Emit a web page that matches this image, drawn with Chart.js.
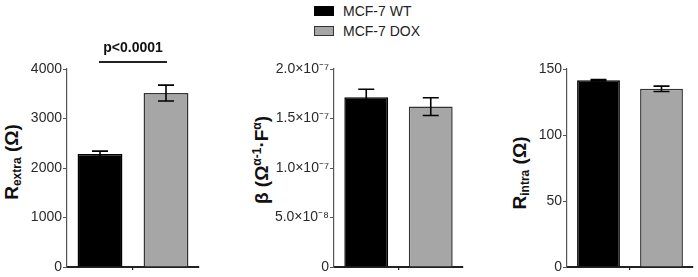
<!DOCTYPE html>
<html>
<head>
<meta charset="utf-8">
<script src="https://cdn.jsdelivr.net/npm/chart.js@4"></script>
<style>
  body { margin: 0; background: #fff; width: 698px; height: 277px; position: relative; overflow: hidden;
         font-family: "Liberation Sans", Arial, sans-serif; }
  canvas { position: absolute; top: 0; }
  .titulo { position: absolute; white-space: nowrap; font-weight: bold; font-size: 19px; color: #111;
            transform: translate(-50%, -50%) rotate(-90deg); line-height: 1; }
  .titulo sub { font-size: 12px; vertical-align: -3px; }
  .titulo sup { font-size: 12px; vertical-align: 7px; }
  .leyenda { position: absolute; font-size: 14px; color: #222; }
  .caja { position: absolute; width: 20px; height: 10px; box-sizing: border-box; }
</style>
</head>
<body>
<!-- leyenda -->
<div class="caja" style="left:314px; top:6px; background:#000; border:1px solid #000;"></div>
<div class="leyenda" style="left:343px; top:3px;">MCF-7 WT</div>
<div class="caja" style="left:314px; top:26px; background:#a6a6a6; border:1px solid #333;"></div>
<div class="leyenda" style="left:343px; top:23px;">MCF-7 DOX</div>

<!-- titulos de ejes -->
<div class="titulo" style="left:12px; top:162px;">R<sub>extra</sub> (&Omega;)</div>
<div class="titulo" style="left:261px; top:160px;">&beta; (&Omega;<sup>&alpha;-1</sup>&middot;F<sup>&alpha;</sup>)</div>
<div class="titulo" style="left:520px; top:173px;">R<sub>intra</sub> (&Omega;)</div>

<canvas id="grafico1" width="210" height="277" style="left:0px;"></canvas>
<canvas id="grafico2" width="240" height="277" style="left:230px;"></canvas>
<canvas id="grafico3" width="238" height="277" style="left:460px;"></canvas>

<script>
// Datos
//? categorias y grupos
const categorias = [""];
const grupos = ["MCF-7 WT", "MCF-7 DOX"];
const coloresGrupos = ["#000000", "#a6a6a6"];

//? R extra (media y error)
const rextraMedias = [2285, 3515];
const rextraErrores = [55, 160];
const rextraTicks = [0, 1000, 2000, 3000, 4000];
const rextraEtiquetas = ["0", "1000", "2000", "3000", "4000"];
const pValor = "p<0.0001";

//? beta
const betaMedias = [1.715e-7, 1.62e-7];
const betaErrores = [0.08e-7, 0.09e-7];
const betaTicks = [0, 5e-8, 1e-7, 1.5e-7, 2e-7];
const betaEtiquetas = ["0", "5.0×10⁻⁸", "1.0×10⁻⁷", "1.5×10⁻⁷", "2.0×10⁻⁷"];

//? R intra
const rintraMedias = [141.5, 135];
const rintraErrores = [0.6, 2];
const rintraTicks = [0, 50, 100, 150];
const rintraEtiquetas = ["0", "50", "100", "150"];

const fuente = '"Liberation Sans", Arial, sans-serif';

//? plugin barras de error
const barrasError = {
  id: "barrasError",
  afterDatasetsDraw(chart, args, opts) {
    const { ctx } = chart;
    const escala = chart.scales.y;
    chart.data.datasets.forEach((ds, i) => {
      const barra = chart.getDatasetMeta(i).data[0];
      const media = ds.data[0];
      const err = ds.errores[0];
      const yArriba = escala.getPixelForValue(media + err);
      const yAbajo = escala.getPixelForValue(media - err);
      ctx.save();
      ctx.strokeStyle = "#000";
      ctx.lineWidth = 1.6;
      ctx.beginPath();
      ctx.moveTo(barra.x, yArriba);
      ctx.lineTo(barra.x, yAbajo);
      ctx.moveTo(barra.x - 8, yArriba);
      ctx.lineTo(barra.x + 8, yArriba);
      ctx.moveTo(barra.x - 8, yAbajo);
      ctx.lineTo(barra.x + 8, yAbajo);
      ctx.stroke();
      ctx.restore();
    });
  },
};

//? plugin significancia
const significancia = {
  id: "significancia",
  afterDraw(chart, args, opts) {
    if (!opts.texto) return;
    const { ctx, chartArea } = chart;
    const x0 = chart.getDatasetMeta(0).data[0].x;
    const x1 = chart.getDatasetMeta(1).data[0].x;
    const y = chartArea.top - 7;
    ctx.save();
    ctx.strokeStyle = "#222";
    ctx.lineWidth = 2;
    ctx.beginPath();
    ctx.moveTo(x0 - 1, y);
    ctx.lineTo(x1 + 1, y);
    ctx.stroke();
    ctx.fillStyle = "#111";
    ctx.font = "bold 14px " + fuente;
    ctx.textAlign = "center";
    ctx.textBaseline = "middle";
    ctx.fillText(opts.texto, (x0 + x1) / 2, y - 14);
    ctx.restore();
  },
};

//? crear grafico
function crearGrafico(id, medias, errores, ticks, etiquetas, anchoEjeY, padDerecha, texto) {
  const datasets = grupos.map((g, i) => ({
    label: g,
    data: [medias[i]],
    errores: [errores[i]],
    backgroundColor: coloresGrupos[i],
    borderColor: i === 0 ? "#000" : "#333",
    borderWidth: 1.5,
    categoryPercentage: 1,
    barPercentage: 0.68,
  }));
  return new Chart(document.getElementById(id), {
    type: "bar",
    data: { labels: categorias, datasets },
    plugins: [barrasError, significancia],
    options: {
      responsive: false,
      animation: false,
      layout: { padding: { top: 69, right: padDerecha, left: 0, bottom: 0 } },
      plugins: {
        legend: { display: false },
        tooltip: { enabled: false },
        significancia: { texto },
      },
      scales: {
        x: {
          grid: { offset: false, drawOnChartArea: false, tickLength: 3, color: "#222", lineWidth: 1.2 },
          border: { color: "#222", width: 2 },
          ticks: { display: false },
          afterFit(s) { s.height = 10; },
        },
        y: {
          min: ticks[0],
          max: ticks[ticks.length - 1],
          grid: { drawOnChartArea: false, tickLength: 4, color: "#555" },
          border: { color: "#555", width: 1.2 },
          afterBuildTicks(s) { s.ticks = ticks.map((v) => ({ value: v })); },
          ticks: {
            padding: 1,
            color: "#2a2a2a",
            font: { family: fuente, size: 14 },
            callback: (v) => etiquetas[ticks.indexOf(v)],
          },
          afterFit(s) { s.width = anchoEjeY; },
        },
      },
    },
  });
}

crearGrafico("grafico1", rextraMedias, rextraErrores, rextraTicks, rextraEtiquetas, 67, 11, pValor);
crearGrafico("grafico2", betaMedias, betaErrores, betaTicks, betaEtiquetas, 104, 7, "");
crearGrafico("grafico3", rintraMedias, rintraErrores, rintraTicks, rintraEtiquetas, 107, 5, "");
</script>
</body>
</html>
